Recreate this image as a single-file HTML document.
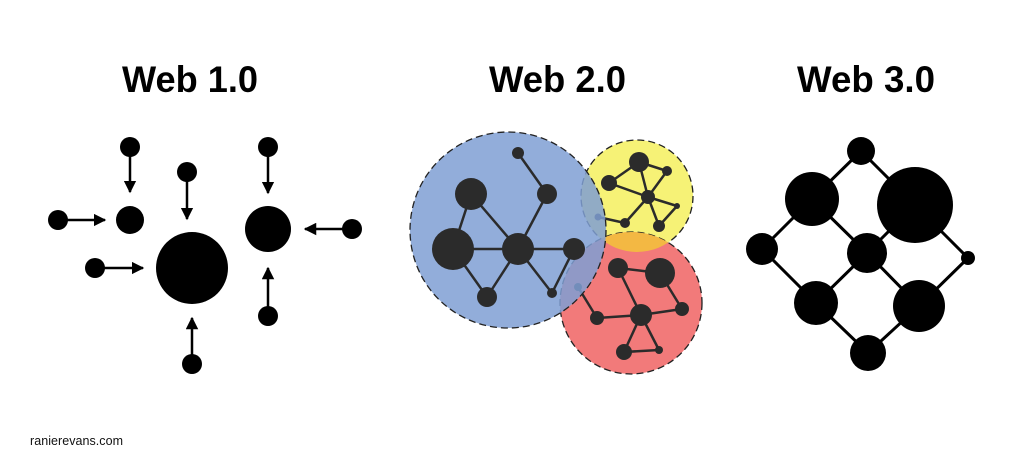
<!DOCTYPE html>
<html><head><meta charset="utf-8"><style>html,body{margin:0;padding:0;background:#fff}svg{display:block}</style></head>
<body>
<svg width="1024" height="464" viewBox="0 0 1024 464" xmlns="http://www.w3.org/2000/svg" font-family="Liberation Sans, sans-serif">
<defs>
<marker id="ah" viewBox="0 0 10 10" refX="9" refY="5" markerWidth="5" markerHeight="5" orient="auto" markerUnits="strokeWidth"><path d="M0,0 L10,5 L0,10 z" fill="#000"/></marker>
<clipPath id="yc"><circle cx="637" cy="196" r="56"/></clipPath>
</defs>
<g font-weight="bold" font-size="37" fill="#000">
<text x="122" y="92" textLength="136" lengthAdjust="spacingAndGlyphs">Web 1.0</text>
<text x="489" y="92" textLength="137" lengthAdjust="spacingAndGlyphs">Web 2.0</text>
<text x="797" y="92" textLength="138" lengthAdjust="spacingAndGlyphs">Web 3.0</text>
</g>
<text x="30" y="445" font-size="12.5" fill="#111" textLength="93">ranierevans.com</text>

<!-- Web 1.0 -->
<g fill="#000" stroke="#000" stroke-width="2.5">
<line x1="130" y1="147" x2="130" y2="192" marker-end="url(#ah)"/>
<line x1="58" y1="220" x2="105" y2="220" marker-end="url(#ah)"/>
<line x1="95" y1="268" x2="143" y2="268" marker-end="url(#ah)"/>
<line x1="187" y1="172" x2="187" y2="219" marker-end="url(#ah)"/>
<line x1="268" y1="147" x2="268" y2="193" marker-end="url(#ah)"/>
<line x1="352" y1="229" x2="305" y2="229" marker-end="url(#ah)"/>
<line x1="268" y1="316" x2="268" y2="268" marker-end="url(#ah)"/>
<line x1="192" y1="364" x2="192" y2="318" marker-end="url(#ah)"/>
</g>
<g fill="#000">
<circle cx="130" cy="147" r="10"/><circle cx="130" cy="220" r="14"/>
<circle cx="58" cy="220" r="10"/><circle cx="95" cy="268" r="10"/>
<circle cx="192" cy="268" r="36"/><circle cx="187" cy="172" r="10"/>
<circle cx="268" cy="147" r="10"/><circle cx="268" cy="229" r="23"/>
<circle cx="352" cy="229" r="10"/><circle cx="268" cy="316" r="10"/>
<circle cx="192" cy="364" r="10"/>
</g>

<!-- Web 2.0 -->
<circle cx="637" cy="196" r="56" fill="#f6f276" stroke="#222" stroke-width="1.3" stroke-dasharray="7,4"/>
<circle cx="631" cy="303" r="71" fill="#f27a7a" stroke="#222" stroke-width="1.3" stroke-dasharray="7,4"/>
<circle cx="631" cy="303" r="71" fill="#f3b843" clip-path="url(#yc)"/>
<g stroke="#2b2b2b" stroke-width="2.5">
<line x1="639" y1="162" x2="667" y2="171"/><line x1="639" y1="162" x2="609" y2="183"/>
<line x1="639" y1="162" x2="648" y2="197"/><line x1="667" y1="171" x2="648" y2="197"/>
<line x1="609" y1="183" x2="648" y2="197"/><line x1="648" y1="197" x2="677" y2="206"/>
<line x1="648" y1="197" x2="625" y2="223"/><line x1="648" y1="197" x2="659" y2="226"/>
<line x1="659" y1="226" x2="677" y2="206"/><line x1="625" y1="223" x2="598" y2="217"/>
<line x1="618" y1="268" x2="660" y2="273"/><line x1="618" y1="268" x2="641" y2="315"/>
<line x1="660" y1="273" x2="682" y2="309"/><line x1="682" y1="309" x2="641" y2="315"/>
<line x1="641" y1="315" x2="597" y2="318"/><line x1="641" y1="315" x2="624" y2="352"/>
<line x1="641" y1="315" x2="659" y2="350"/><line x1="624" y1="352" x2="659" y2="350"/>
<line x1="597" y1="318" x2="578" y2="287"/>
</g>
<g fill="#2b2b2b">
<circle cx="639" cy="162" r="10"/><circle cx="667" cy="171" r="5"/><circle cx="609" cy="183" r="8"/>
<circle cx="648" cy="197" r="7"/><circle cx="677" cy="206" r="3"/><circle cx="625" cy="223" r="5"/>
<circle cx="659" cy="226" r="6"/><circle cx="598" cy="217" r="3.5"/>
<circle cx="618" cy="268" r="10"/><circle cx="660" cy="273" r="15"/><circle cx="682" cy="309" r="7"/>
<circle cx="641" cy="315" r="11"/><circle cx="597" cy="318" r="7"/><circle cx="624" cy="352" r="8"/>
<circle cx="659" cy="350" r="4"/><circle cx="578" cy="287" r="4"/>
</g>
<circle cx="508" cy="230" r="98" fill="#7f9fd3" fill-opacity="0.85" stroke="#222" stroke-width="1.3" stroke-dasharray="7,4"/>
<g stroke="#2b2b2b" stroke-width="2.5">
<line x1="518" y1="153" x2="547" y2="194"/><line x1="547" y1="194" x2="518" y2="249"/>
<line x1="471" y1="194" x2="453" y2="249"/><line x1="471" y1="194" x2="518" y2="249"/>
<line x1="453" y1="249" x2="518" y2="249"/><line x1="518" y1="249" x2="574" y2="249"/>
<line x1="453" y1="249" x2="487" y2="297"/><line x1="487" y1="297" x2="518" y2="249"/>
<line x1="518" y1="249" x2="552" y2="293"/><line x1="552" y1="293" x2="574" y2="249"/>
</g>
<g fill="#2b2b2b">
<circle cx="518" cy="153" r="6"/><circle cx="547" cy="194" r="10"/><circle cx="471" cy="194" r="16"/>
<circle cx="453" cy="249" r="21"/><circle cx="518" cy="249" r="16"/><circle cx="574" cy="249" r="11"/>
<circle cx="487" cy="297" r="10"/><circle cx="552" cy="293" r="5"/>
</g>

<!-- Web 3.0 -->
<g stroke="#000" stroke-width="3">
<line x1="861" y1="151" x2="812" y2="199"/><line x1="861" y1="151" x2="915" y2="205"/>
<line x1="812" y1="199" x2="762" y2="249"/><line x1="812" y1="199" x2="867" y2="253"/>
<line x1="915" y1="205" x2="867" y2="253"/><line x1="915" y1="205" x2="968" y2="258"/>
<line x1="762" y1="249" x2="816" y2="303"/><line x1="867" y1="253" x2="816" y2="303"/>
<line x1="867" y1="253" x2="919" y2="306"/><line x1="968" y1="258" x2="919" y2="306"/>
<line x1="816" y1="303" x2="868" y2="353"/><line x1="919" y1="306" x2="868" y2="353"/>
</g>
<g fill="#000">
<circle cx="861" cy="151" r="14"/><circle cx="812" cy="199" r="27"/><circle cx="915" cy="205" r="38"/>
<circle cx="762" cy="249" r="16"/><circle cx="867" cy="253" r="20"/><circle cx="968" cy="258" r="7"/>
<circle cx="816" cy="303" r="22"/><circle cx="919" cy="306" r="26"/><circle cx="868" cy="353" r="18"/>
</g>
</svg>
</body></html>
